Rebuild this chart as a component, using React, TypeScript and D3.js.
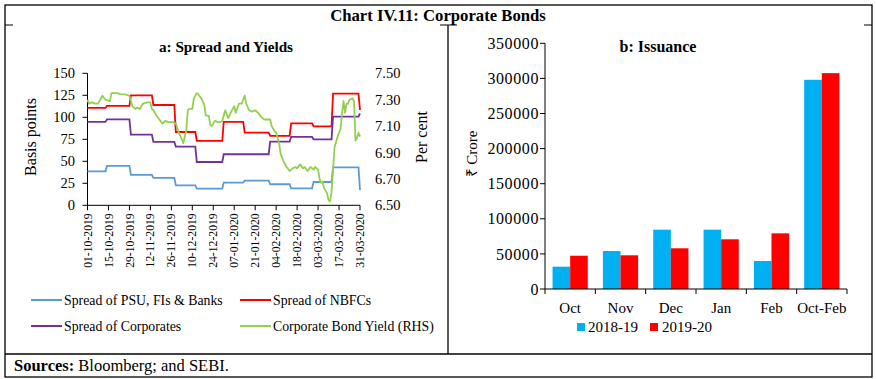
import React from "react";
import * as d3 from "d3";

// ---------- Panel a data ----------
const tickLabels = ["01-10-2019","15-10-2019","29-10-2019","12-11-2019","26-11-2019","10-12-2019","24-12-2019","07-01-2020","21-01-2020","04-02-2020","18-02-2020","03-03-2020","17-03-2020","31-03-2020"];
const spreadTicks = [0, 25, 50, 75, 100, 125, 150];
const yieldTicks = [6.5, 6.7, 6.9, 7.1, 7.3, 7.5];

// start dates of each fortnightly spread segment
const stepStarts = ["2019-10-01","2019-10-14","2019-10-30","2019-11-14","2019-11-29","2019-12-13","2019-12-31","2020-01-14","2020-01-31","2020-02-14","2020-02-29","2020-03-13"];
const lastDate = "2020-03-31";
const psuSpread = [38.6, 44.7, 34.5, 31.1, 22.7, 18.9, 25.8, 28.0, 23.9, 19.3, 26.5, 43.2];
const psuLast = 17.4;
const nbfcSpread = [110.6, 112.9, 125.0, 114.0, 83.3, 73.1, 94.7, 82.6, 78.8, 93.2, 89.8, 126.9];
const nbfcLast = 108.3;
const corpSpread = [94.7, 97.7, 80.3, 72.0, 66.7, 49.2, 58.0, 58.0, 72.3, 77.7, 75.0, 100.8];
const corpLast = 104.5;

const yieldData: [string, number][] = [
  ["2019-10-01",7.30],["2019-10-02",7.27],["2019-10-04",7.28],["2019-10-06",7.27],["2019-10-08",7.27],
  ["2019-10-11",7.33],["2019-10-13",7.30],["2019-10-16",7.29],["2019-10-17",7.35],["2019-10-21",7.35],
  ["2019-10-23",7.34],["2019-10-26",7.34],["2019-10-29",7.33],["2019-10-31",7.25],["2019-11-02",7.23],
  ["2019-11-03",7.24],["2019-11-05",7.23],["2019-11-07",7.27],["2019-11-10",7.28],["2019-11-12",7.28],
  ["2019-11-13",7.23],["2019-11-14",7.22],["2019-11-16",7.18],["2019-11-18",7.15],["2019-11-20",7.12],
  ["2019-11-22",7.14],["2019-11-24",7.13],["2019-11-27",7.13],["2019-11-29",7.12],["2019-12-01",7.05],
  ["2019-12-03",7.00],["2019-12-04",6.97],["2019-12-06",7.07],["2019-12-07",7.22],["2019-12-08",7.23],
  ["2019-12-10",7.23],["2019-12-11",7.31],["2019-12-13",7.35],["2019-12-14",7.34],["2019-12-16",7.31],
  ["2019-12-18",7.26],["2019-12-19",7.18],["2019-12-21",7.18],["2019-12-22",7.11],["2019-12-23",7.10],
  ["2019-12-25",7.14],["2019-12-27",7.13],["2019-12-29",7.13],["2019-12-30",7.14],["2020-01-01",7.22],
  ["2020-01-03",7.16],["2020-01-05",7.21],["2020-01-07",7.25],["2020-01-08",7.20],["2020-01-10",7.27],
  ["2020-01-12",7.27],["2020-01-13",7.30],["2020-01-14",7.33],["2020-01-15",7.27],["2020-01-17",7.22],
  ["2020-01-19",7.21],["2020-01-21",7.22],["2020-01-23",7.20],["2020-01-25",7.17],["2020-01-27",7.15],
  ["2020-01-29",7.15],["2020-01-31",7.15],["2020-02-01",7.10],["2020-02-03",7.06],["2020-02-04",7.05],
  ["2020-02-06",6.97],["2020-02-07",6.89],["2020-02-09",6.83],["2020-02-11",6.79],["2020-02-13",6.76],
  ["2020-02-15",6.78],["2020-02-17",6.79],["2020-02-18",6.78],["2020-02-20",6.81],["2020-02-22",6.78],
  ["2020-02-23",6.79],["2020-02-25",6.76],["2020-02-27",6.79],["2020-02-29",6.77],["2020-03-01",6.79],
  ["2020-03-03",6.77],["2020-03-04",6.70],["2020-03-05",6.67],["2020-03-06",6.68],["2020-03-07",6.63],
  ["2020-03-09",6.59],["2020-03-10",6.54],["2020-03-11",6.53],["2020-03-12",6.60],["2020-03-13",6.77],
  ["2020-03-14",6.94],["2020-03-16",7.02],["2020-03-18",7.08],["2020-03-19",7.20],["2020-03-20",7.29],
  ["2020-03-21",7.20],["2020-03-22",7.27],["2020-03-23",7.27],["2020-03-24",7.30],["2020-03-26",7.31],
  ["2020-03-27",7.29],["2020-03-28",6.99],["2020-03-29",7.01],["2020-03-30",7.05],["2020-03-31",7.02]
];

// ---------- Panel b data ----------
const months = ["Oct", "Nov", "Dec", "Jan", "Feb", "Oct-Feb"];
const seriesNames = ["2018-19", "2019-20"];
const issuance2018 = [31800, 54100, 84500, 84500, 39900, 298000];
const issuance2019 = [47400, 48000, 58000, 70800, 79300, 307500];
const issuanceTicks = [0, 50000, 100000, 150000, 200000, 250000, 300000, 350000];

const SERIF = "'Liberation Serif', 'Times New Roman', serif";
const parse = d3.timeParse("%Y-%m-%d");
const parseTick = d3.timeParse("%d-%m-%Y");

function stepPoints(values: number[], last: number): [Date, number][] {
  const pts: [Date, number][] = [];
  values.forEach((v, i) => {
    const s = parse(stepStarts[i])!;
    const e = i < values.length - 1 ? d3.timeDay.offset(parse(stepStarts[i + 1])!, -1) : d3.timeDay.offset(parse(lastDate)!, -1);
    pts.push([s, v], [e, v]);
  });
  pts.push([parse(lastDate)!, last]);
  return pts;
}

export default function App() {
  // panel a scales
  const xL = d3.scaleTime().domain([parse("2019-10-01")!, parse(lastDate)!]).range([87.5, 360]);
  const yL = d3.scaleLinear().domain([0, 150]).range([205.3, 73.3]);
  const yR = d3.scaleLinear().domain([6.5, 7.5]).range([205.3, 73.3]);
  const lineL = d3.line<[Date, number]>().x(d => xL(d[0])).y(d => yL(d[1]));
  const lineR = d3.line<[string, number]>().x(d => xL(parse(d[0])!)).y(d => yR(d[1]));

  const spreadSeries = [
    { name: "Spread of PSU, FIs & Banks", color: "#5B9BD5", pts: stepPoints(psuSpread, psuLast) },
    { name: "Spread of NBFCs", color: "#FF0000", pts: stepPoints(nbfcSpread, nbfcLast) },
    { name: "Spread of Corporates", color: "#7030A0", pts: stepPoints(corpSpread, corpLast) },
  ];

  // panel b scales
  const xB = d3.scaleBand<string>().domain(months).range([545, 847]).paddingInner(0.3).paddingOuter(0.15);
  const xSub = d3.scaleBand<string>().domain(seriesNames).range([0, xB.bandwidth()]);
  const yB = d3.scaleLinear().domain([0, 350000]).range([289, 43.3]);
  const barColors = ["#00B0F0", "#FF0000"];
  const barData = [issuance2018, issuance2019];
  const step = xB.step();

  const legendA = [
    { name: "Spread of PSU, FIs & Banks", color: "#5B9BD5", x: 31, y: 300 },
    { name: "Spread of NBFCs", color: "#FF0000", x: 240, y: 300 },
    { name: "Spread of Corporates", color: "#7030A0", x: 31, y: 326 },
    { name: "Corporate Bond Yield (RHS)", color: "#92D050", x: 240, y: 326 },
  ];

  return (
    <svg width={876} height={379} style={{ display: "block", position: "absolute", left: 0, top: 0, background: "#fff" }} fontFamily={SERIF}>
      <rect x={0} y={0} width={876} height={379} fill="#fff" />
      {/* frame */}
      <rect x={5} y={5} width={867} height={372} fill="none" stroke="#000" strokeWidth={1.3} />
      <line x1={5} x2={13} y1={25} y2={25} stroke="#000" strokeWidth={1} />
      <line x1={864} x2={872} y1={25} y2={25} stroke="#000" strokeWidth={1} />
      <line x1={440} x2={457} y1={25} y2={25} stroke="#000" strokeWidth={1} />
      <line x1={448} x2={448} y1={25} y2={354} stroke="#000" strokeWidth={1.3} />
      <line x1={5} x2={872} y1={354} y2={354} stroke="#000" strokeWidth={1.3} />
      <text x={438} y={21} textAnchor="middle" fontWeight="bold" fontSize={16.7}>Chart IV.11: Corporate Bonds</text>
      <text x={14} y={371} fontSize={16.5}><tspan fontWeight="bold">Sources:</tspan> Bloomberg; and SEBI.</text>

      {/* ---------- Panel a ---------- */}
      <text x={226} y={52} textAnchor="middle" fontWeight="bold" fontSize={15.2}>a: Spread and Yields</text>
      <line x1={87.5} x2={87.5} y1={yL(150)} y2={yL(0)} stroke="#000" />
      {spreadTicks.map(t => (
        <g key={"yl" + t}>
          <line x1={82.5} x2={87.5} y1={yL(t)} y2={yL(t)} stroke="#000" />
          <text x={75} y={yL(t)} dy="0.35em" textAnchor="end" fontSize={14.5}>{t}</text>
        </g>
      ))}
      {yieldTicks.map(t => (
        <text key={"yr" + t} x={375} y={yR(t)} dy="0.35em" fontSize={14.5}>{t.toFixed(2)}</text>
      ))}
      <line x1={87.5} x2={360} y1={yL(0)} y2={yL(0)} stroke="#000" />
      {tickLabels.map(lbl => {
        const x = xL(parseTick(lbl)!);
        return (
          <g key={lbl}>
            <line x1={x} x2={x} y1={yL(0)} y2={yL(0) + 5} stroke="#000" />
            <text transform={`translate(${x},${yL(0) + 8}) rotate(-90)`} dy="0.35em" textAnchor="end" fontSize={11.7}>{lbl}</text>
          </g>
        );
      })}
      <text transform="translate(30,137) rotate(-90)" textAnchor="middle" dy="0.35em" fontSize={16}>Basis points</text>
      <text transform="translate(421,137) rotate(-90)" textAnchor="middle" dy="0.35em" fontSize={16}>Per cent</text>
      {spreadSeries.map(s => (
        <path key={s.name} d={lineL(s.pts)!} fill="none" stroke={s.color} strokeWidth={1.8} />
      ))}
      <path d={lineR(yieldData)!} fill="none" stroke="#92D050" strokeWidth={1.8} strokeLinejoin="round" />
      {legendA.map(l => (
        <g key={l.name}>
          <line x1={l.x} x2={l.x + 31} y1={l.y} y2={l.y} stroke={l.color} strokeWidth={2} />
          <text x={l.x + 33} y={l.y} dy="0.35em" fontSize={13.8}>{l.name}</text>
        </g>
      ))}

      {/* ---------- Panel b ---------- */}
      <text x={658} y={52} textAnchor="middle" fontWeight="bold" fontSize={16}>b: Issuance</text>
      {months.map((m, i) => (
        <g key={m}>
          {barData.map((arr, j) => (
            <rect key={j} x={xB(m)! + xSub(seriesNames[j])!} y={yB(arr[i])} width={xSub.bandwidth()} height={yB(0) - yB(arr[i])} fill={barColors[j]} />
          ))}
          <text x={xB(m)! + xB.bandwidth() / 2} y={313} textAnchor="middle" fontSize={15}>{m}</text>
        </g>
      ))}
      <line x1={545} x2={545} y1={yB(350000)} y2={yB(0)} stroke="#000" />
      {issuanceTicks.map(t => (
        <g key={"yb" + t}>
          <line x1={540} x2={545} y1={yB(t)} y2={yB(t)} stroke="#000" />
          <text x={539} y={yB(t)} dy="0.35em" textAnchor="end" fontSize={16} letterSpacing={0.6}>{t}</text>
        </g>
      ))}
      <line x1={545} x2={847} y1={yB(0)} y2={yB(0)} stroke="#000" />
      {d3.range(months.length + 1).map(i => (
        <line key={"bt" + i} x1={545 + i * step} x2={545 + i * step} y1={yB(0)} y2={yB(0) + 5} stroke="#000" />
      ))}
      <text transform="translate(472,154) rotate(-90)" textAnchor="middle" dy="0.35em" fontSize={15}>₹ Crore</text>
      {seriesNames.map((n, j) => (
        <g key={n}>
          <rect x={577 + j * 73} y={323} width={8} height={8} fill={barColors[j]} />
          <text x={588 + j * 74} y={327} dy="0.35em" fontSize={15}>{n}</text>
        </g>
      ))}
    </svg>
  );
}
